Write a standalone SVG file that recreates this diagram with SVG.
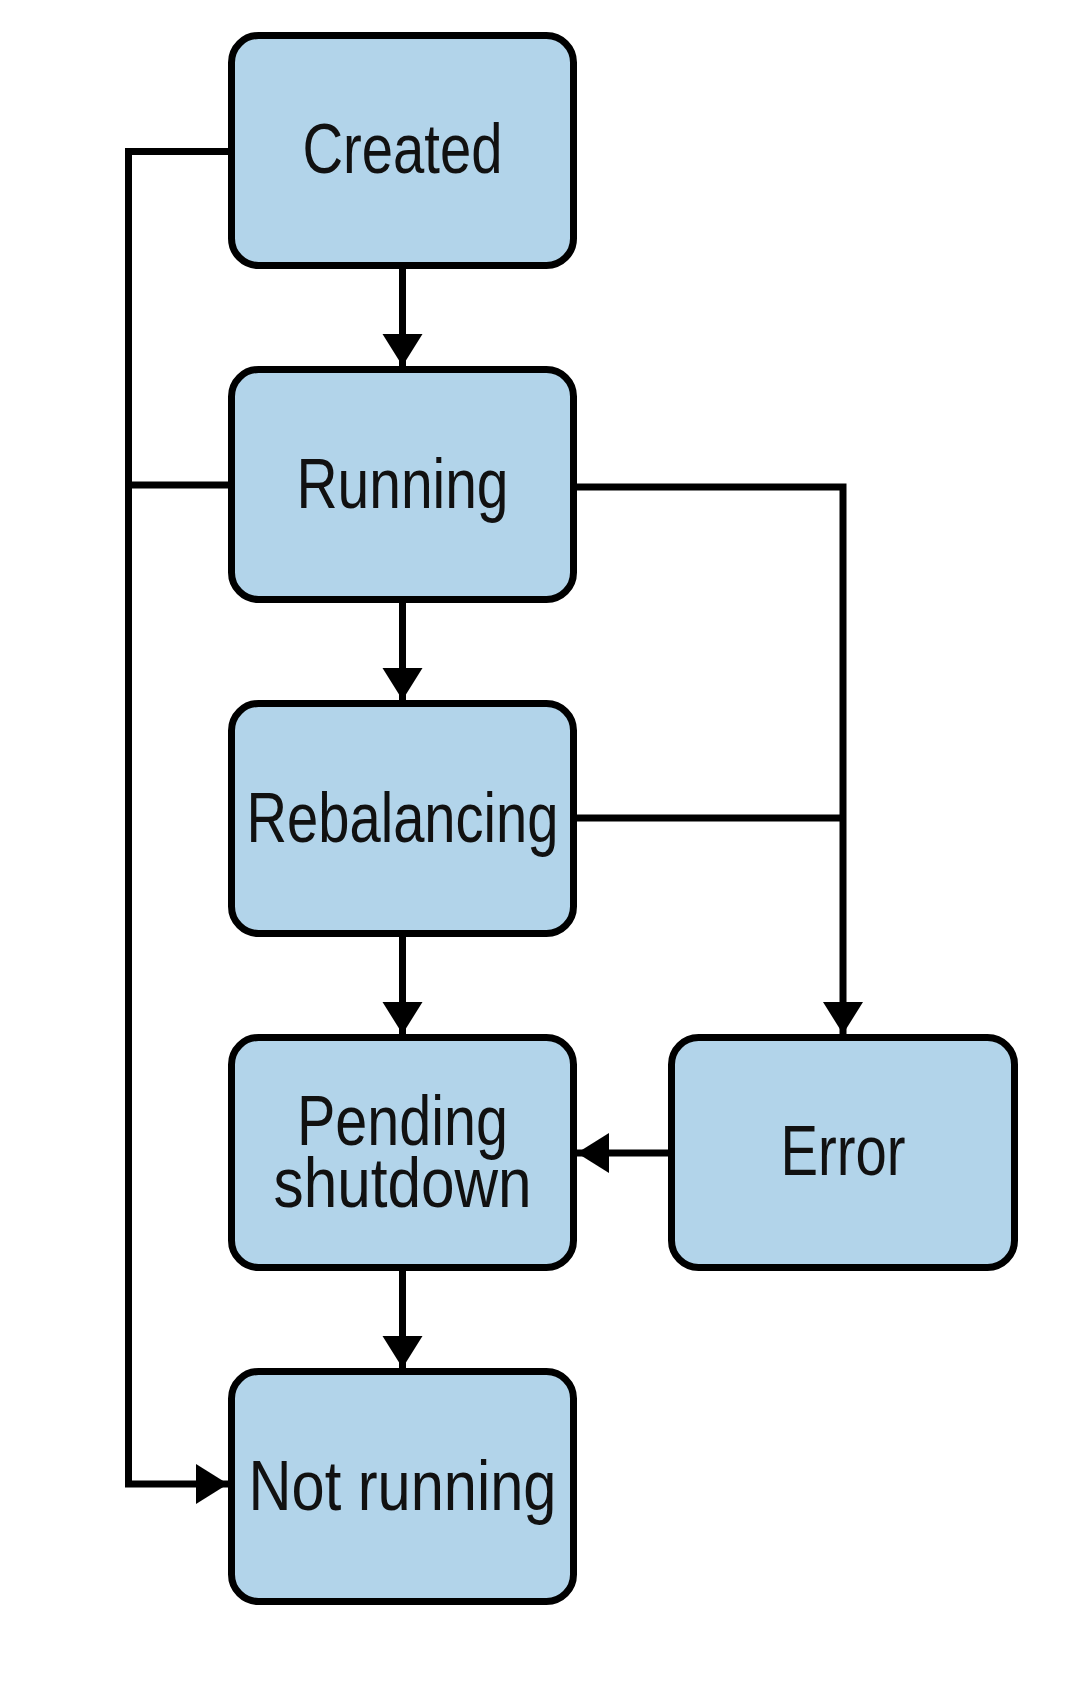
<svg xmlns="http://www.w3.org/2000/svg" width="1092" height="1704" viewBox="0 0 1092 1704">
<style>
.box{fill:#b2d4ea;stroke:#000;stroke-width:7}
.lbl{font-family:"Liberation Sans Narrow","Liberation Sans",sans-serif;font-size:70px;fill:#111;text-anchor:middle}
.ln{fill:none;stroke:#000;stroke-width:7;stroke-linejoin:miter;stroke-linecap:butt}
</style>
<defs>
<marker id="ah" markerUnits="userSpaceOnUse" markerWidth="34" markerHeight="42" refX="32" refY="20" orient="auto" viewBox="0 0 34 40">
<path d="M0,0 L32,20 L0,40 Z" fill="#000"/>
</marker>
</defs>
<rect width="1092" height="1704" fill="#fff"/>
<g id="connectors">
<path class="ln" d="M402.5,268 V366" marker-end="url(#ah)"/>
<path class="ln" d="M402.5,603 V700" marker-end="url(#ah)"/>
<path class="ln" d="M402.5,937 V1034" marker-end="url(#ah)"/>
<path class="ln" d="M402.5,1271 V1368" marker-end="url(#ah)"/>
<path class="ln" d="M228,151.5 H128.5 V1484 H228" marker-end="url(#ah)"/>
<path class="ln" d="M228,485 H128.5"/>
<path class="ln" d="M577,487 H843 V1034" marker-end="url(#ah)"/>
<path class="ln" d="M577,818 H843"/>
<path class="ln" d="M668,1153 H577" marker-end="url(#ah)"/>
</g>
<g id="created">
<rect class="box" x="231.5" y="35.5" width="342" height="230" rx="27"/>
<text class="lbl" x="402.5" y="173" textLength="200" lengthAdjust="spacingAndGlyphs">Created</text>
</g>
<g id="running">
<rect class="box" x="231.5" y="369.5" width="342" height="230" rx="27"/>
<text class="lbl" x="402.5" y="508" textLength="212" lengthAdjust="spacingAndGlyphs">Running</text>
</g>
<g id="rebalancing">
<rect class="box" x="231.5" y="703.5" width="342" height="230" rx="27"/>
<text class="lbl" x="402.5" y="842" textLength="312" lengthAdjust="spacingAndGlyphs">Rebalancing</text>
</g>
<g id="pending-shutdown">
<rect class="box" x="231.5" y="1037.5" width="342" height="230" rx="27"/>
<text class="lbl" x="402.5" y="1145" textLength="211" lengthAdjust="spacingAndGlyphs">Pending</text>
<text class="lbl" x="402.5" y="1207" textLength="258" lengthAdjust="spacingAndGlyphs">shutdown</text>
</g>
<g id="error">
<rect class="box" x="671.5" y="1037.5" width="343" height="230" rx="27"/>
<text class="lbl" x="843" y="1175" textLength="125" lengthAdjust="spacingAndGlyphs">Error</text>
</g>
<g id="not-running">
<rect class="box" x="231.5" y="1371.5" width="342" height="230" rx="27"/>
<text class="lbl" x="402.5" y="1510" textLength="308" lengthAdjust="spacingAndGlyphs">Not running</text>
</g>
</svg>
